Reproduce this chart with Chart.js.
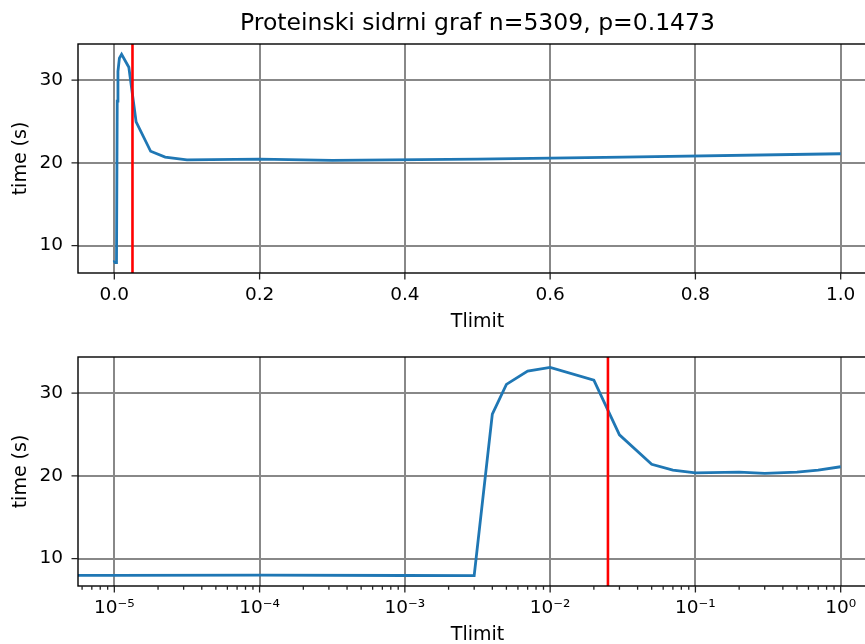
<!doctype html>
<html lang="en">
  <head>
    <meta charset="utf-8">
    <style>
      html, body {
        margin: 0;
        padding: 0;
        width: 865px;
        height: 644px;
        overflow: hidden;
        background: #fff;
      }
      canvas {
        position: absolute;
        left: 0;
      }
      #topChart { top: 0; }
      #bottomChart { top: 340px; }
    </style>
  </head>
  <body>
    <canvas id="topChart" width="880" height="340"></canvas>
    <canvas id="bottomChart" width="880" height="306"></canvas>

    <script src="https://cdn.jsdelivr.net/npm/chart.js/dist/chart.umd.min.js"></script>
    <script>
    // data
    const tlimit = [0, 1e-5, 1e-4, 1e-3, 0.003, 0.004, 0.005, 0.007, 0.01, 0.02, 0.03, 0.05, 0.07, 0.1, 0.2, 0.3, 0.5, 0.7, 1.0];
    const times  = [7.95, 7.98, 8.0, 7.96, 7.95, 27.45, 31.05, 32.65, 33.1, 31.55, 24.95, 21.4, 20.7, 20.35, 20.45, 20.3, 20.45, 20.7, 21.1];
    const tMark = 0.025;

    const yTicks = [10, 20, 30];
    const linTicks = [0, 0.2, 0.4, 0.6, 0.8, 1.0];
    const logMajor = [1e-5, 1e-4, 1e-3, 1e-2, 1e-1, 1];
    const logLabels = ['10⁻⁵', '10⁻⁴', '10⁻³', '10⁻²', '10⁻¹', '10⁰'];
    const titleText = 'Proteinski sidrni graf n=5309, p=0.1473';

    Chart.defaults.font.family = "'DejaVu Sans', sans-serif";
    Chart.defaults.color = '#000';

    // matplotlib style 5% margins
    const yLo = Math.min(...times), yHi = Math.max(...times);
    const yMin = yLo - 0.05 * (yHi - yLo), yMax = yHi + 0.05 * (yHi - yLo);
    const xLinMin = -0.05, xLinMax = 1.05;
    const posT = tlimit.filter(t => t > 0);
    const lgLo = Math.log10(Math.min(...posT)), lgHi = Math.log10(Math.max(...posT));
    const xLogMin = Math.pow(10, lgLo - 0.05 * (lgHi - lgLo));
    const xLogMax = Math.pow(10, lgHi + 0.05 * (lgHi - lgLo));

    // minor ticks for the log axis
    const logTicks = [];
    for (let e = -6; e <= 0; e++) {
      for (let m = 1; m <= 9; m++) {
        const v = m * Math.pow(10, e);
        if (v >= xLogMin && v <= xLogMax) logTicks.push({ value: v, major: m === 1 });
      }
    }

    // red line, frame and tick marks
    const decor = {
      id: 'decor',
      afterDatasetsDraw(chart) {
        const { ctx, chartArea: { top, bottom }, scales: { x } } = chart;
        ctx.save();
        ctx.beginPath();
        ctx.lineWidth = 2.6;
        ctx.strokeStyle = '#ff0000';
        const px = x.getPixelForValue(tMark);
        ctx.moveTo(px, top);
        ctx.lineTo(px, bottom);
        ctx.stroke();
        ctx.restore();
      },
      afterDraw(chart) {
        const { ctx, chartArea: { top, bottom, left, right }, scales: { x, y } } = chart;
        ctx.save();
        ctx.strokeStyle = '#000';
        ctx.lineWidth = 1.4;
        ctx.strokeRect(left, top, right - left, bottom - top);
        ctx.lineWidth = 1.3;
        ctx.strokeStyle = '#222';
        ctx.beginPath();
        x.ticks.forEach(t => {
          const px = x.getPixelForValue(t.value);
          const len = t.major === false ? 3.7 : 6.5;
          ctx.moveTo(px, bottom);
          ctx.lineTo(px, bottom + len);
        });
        y.ticks.forEach(t => {
          const py = y.getPixelForValue(t.value);
          ctx.moveTo(left, py);
          ctx.lineTo(left - 6.5, py);
        });
        ctx.stroke();
        ctx.restore();
      }
    };

    function makeChart(id, isLog) {
      const pts = tlimit.map((t, i) => ({ x: isLog && t <= 0 ? 1e-9 : t, y: times[i] }));
      return new Chart(document.getElementById(id), {
        type: 'line',
        data: {
          datasets: [{
            data: pts,
            borderColor: '#1f77b4',
            borderWidth: 2.8,
            pointRadius: 0,
            tension: 0,
            fill: false
          }]
        },
        options: {
          responsive: false,
          animation: false,
          layout: {
            padding: isLog ? { top: 17, left: 0, right: 3, bottom: 0 } : { top: 0, left: 0, right: 3, bottom: 0 }
          },
          scales: {
            x: {
              type: isLog ? 'logarithmic' : 'linear',
              position: 'bottom',
              min: isLog ? xLogMin : xLinMin,
              max: isLog ? xLogMax : xLinMax,
              bounds: 'data',
              afterBuildTicks: s => {
                s.ticks = isLog ? logTicks.map(t => ({ value: t.value, major: t.major }))
                                : linTicks.map(v => ({ value: v }));
              },
              afterFit: s => {
                s.height = isLog ? 60 : 67;
                s.paddingLeft = 0;
                s.paddingRight = 0;
              },
              ticks: {
                padding: 11,
                autoSkip: false,
                maxRotation: 0,
                font: { size: 18.5 },
                callback: (value, index, ticks) => {
                  if (!isLog) return value.toFixed(1);
                  if (!ticks[index].major) return '';
                  const k = logMajor.findIndex(v => Math.abs(Math.log10(v) - Math.log10(value)) < 1e-6);
                  return k >= 0 ? logLabels[k] : '';
                }
              },
              grid: {
                drawTicks: false,
                lineWidth: 2,
                color: c => (c.tick && c.tick.major === false) ? 'rgba(0,0,0,0)' : '#888'
              },
              border: { display: false },
              title: {
                display: true,
                text: 'Tlimit',
                font: { size: 19 },
                padding: { top: 0, bottom: isLog ? 0 : 6.6 }
              }
            },
            y: {
              type: 'linear',
              min: yMin,
              max: yMax,
              afterBuildTicks: s => { s.ticks = yTicks.map(v => ({ value: v })); },
              afterFit: s => {
                s.width = 78;
                s.paddingTop = 0;
                s.paddingBottom = 0;
              },
              ticks: { padding: 15, font: { size: 18.5 } },
              grid: { drawTicks: false, lineWidth: 2, color: '#888' },
              border: { display: false },
              title: {
                display: true,
                text: 'time (s)',
                font: { size: 19 },
                padding: { top: 9.6, bottom: 0 }
              }
            }
          },
          plugins: {
            legend: { display: false },
            tooltip: { enabled: false },
            title: {
              display: !isLog,
              text: titleText,
              fullSize: false,
              color: '#000',
              font: { size: 23.5, weight: 'normal' },
              padding: { top: 10, bottom: 5.8 }
            }
          }
        },
        plugins: [decor]
      });
    }

    const topChart = makeChart('topChart', false);
    const bottomChart = makeChart('bottomChart', true);
    </script>
  </body>
</html>
